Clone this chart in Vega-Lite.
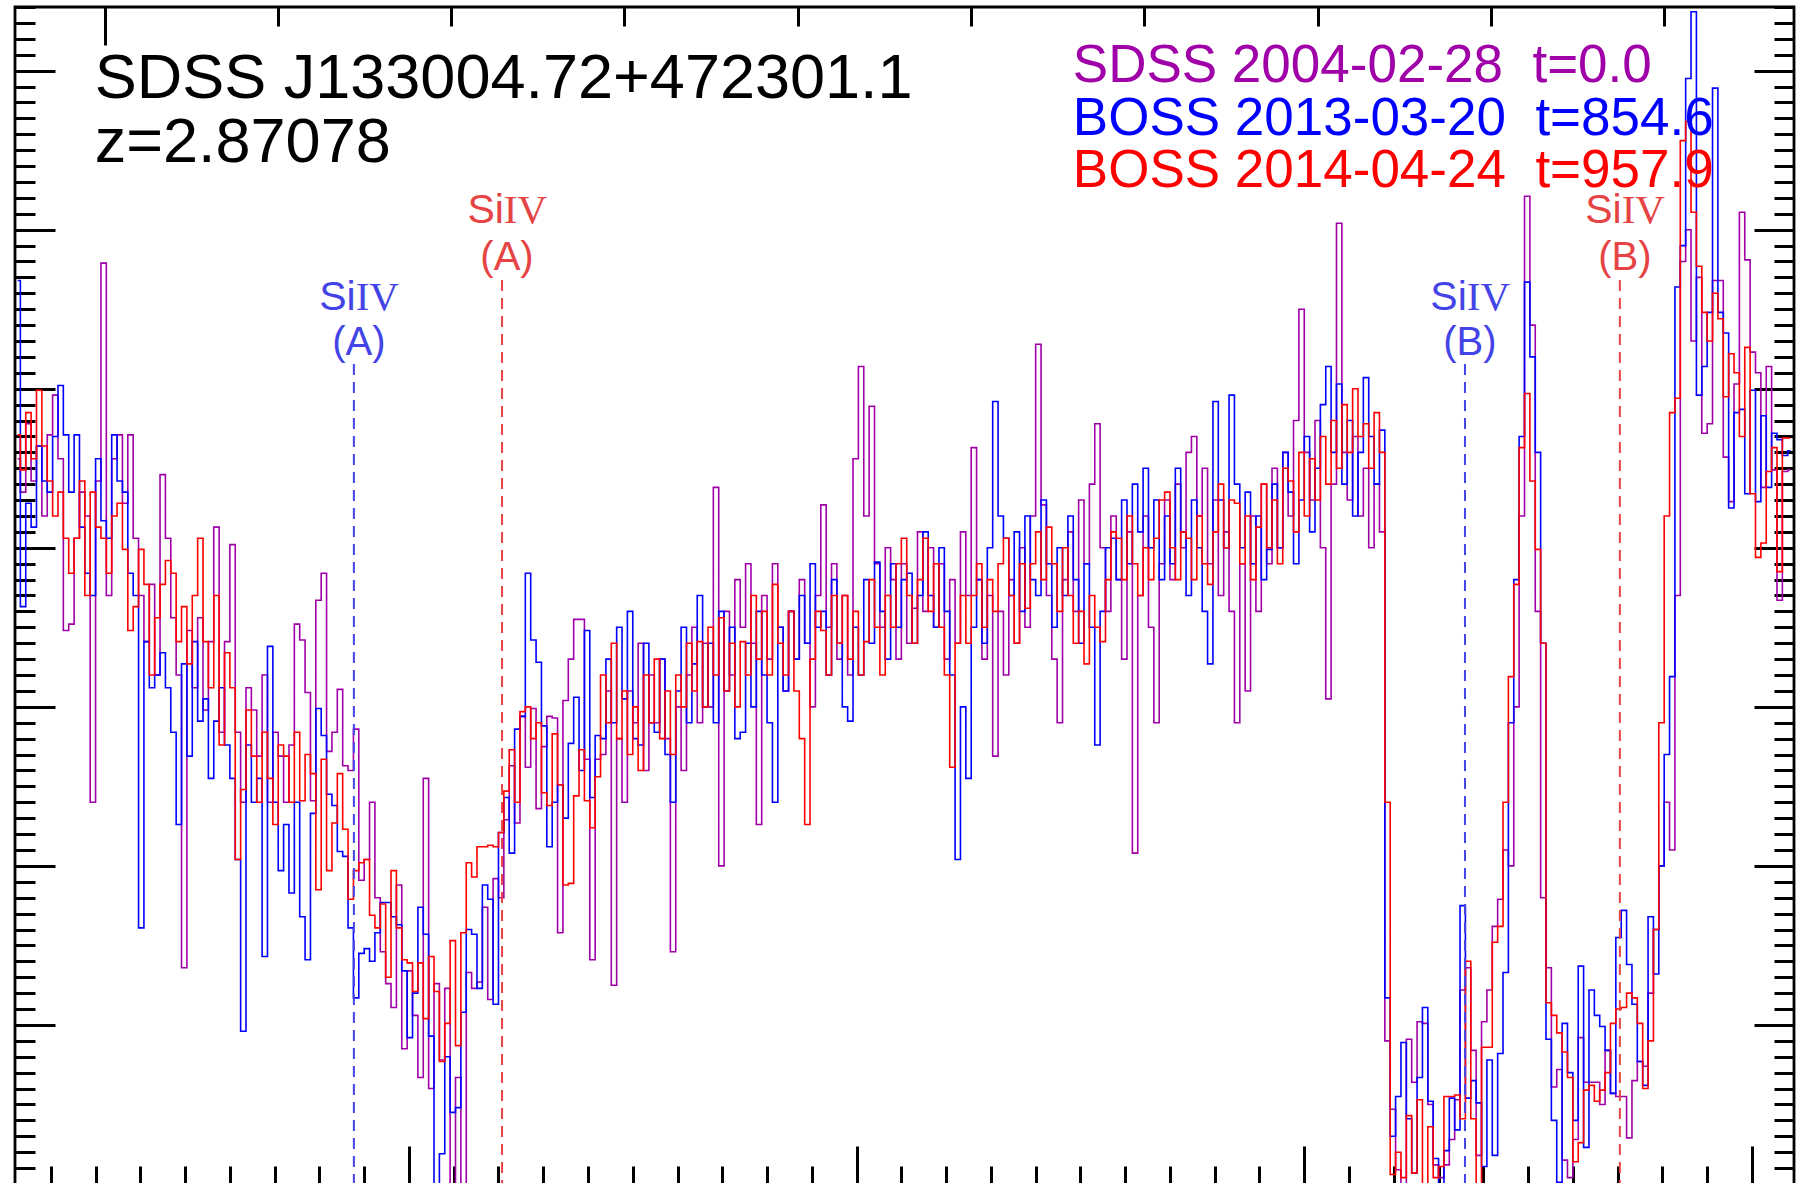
{
"$schema":"https://vega.github.io/schema/vega-lite/v6.json",
"width":1779,"height":1179,
"autosize":{"type":"none"},
"padding":{"left":15,"top":7,"right":2,"bottom":0},
"background":"white",
"config":{"view":{"stroke":"black","strokeWidth":2.8},"axis":{"domain":false,"labels":false,"grid":false,"tickColor":"black","tickWidth":3}},
"resolve":{"axis":{"x":"independent","y":"independent"},"scale":{"color":"independent"}},
"datasets":{
"spec":[
{"w":5012.6,"a":4.56,"b":5.68,"c":4.71},{"w":5013.8,"a":4.35,"b":3.63,"c":4.49},{"w":5015.0,"a":4.78,"b":4.28,"c":4.85},{"w":5016.2,"a":4.42,"b":4.13,"c":4.56},{"w":5017.4,"a":4.64,"b":4.64,"c":4.99},{"w":5018.6,"a":4.20,"b":4.42,"c":4.64},{"w":5019.8,"a":4.71,"b":4.35,"c":4.42},{"w":5021.0,"a":4.96,"b":4.70,"c":4.20},{"w":5022.2,"a":4.56,"b":5.02,"c":4.35},{"w":5023.4,"a":3.48,"b":4.71,"c":4.06},
{"w":5024.6,"a":3.52,"b":4.35,"c":3.84},{"w":5025.8,"a":4.06,"b":4.71,"c":4.06},{"w":5027.0,"a":4.35,"b":4.13,"c":4.42},{"w":5028.2,"a":4.20,"b":3.84,"c":3.70},{"w":5029.4,"a":2.40,"b":3.70,"c":4.35},{"w":5030.6,"a":4.42,"b":4.56,"c":4.13},{"w":5031.8,"a":5.79,"b":4.17,"c":4.06},{"w":5033.0,"a":3.70,"b":4.06,"c":3.84},{"w":5034.2,"a":4.56,"b":4.71,"c":4.20},{"w":5035.4,"a":4.71,"b":4.42,"c":4.28},
{"w":5036.6,"a":4.28,"b":4.35,"c":3.99},{"w":5037.8,"a":4.71,"b":3.84,"c":3.48},{"w":5039.0,"a":4.06,"b":3.70,"c":3.63},{"w":5040.2,"a":3.70,"b":1.61,"c":3.99},{"w":5041.4,"a":3.41,"b":3.41,"c":3.77},{"w":5042.6,"a":3.77,"b":3.12,"c":3.20},{"w":5043.8,"a":3.20,"b":3.20,"c":3.56},{"w":5045.0,"a":4.46,"b":3.34,"c":3.77},{"w":5046.2,"a":4.06,"b":3.12,"c":3.92},{"w":5047.4,"a":3.56,"b":2.84,"c":3.84},
{"w":5048.6,"a":3.20,"b":2.26,"c":3.41},{"w":5049.8,"a":1.36,"b":3.27,"c":3.63},{"w":5051.0,"a":3.48,"b":2.69,"c":3.27},{"w":5052.2,"a":3.12,"b":3.41,"c":3.70},{"w":5053.4,"a":3.56,"b":2.91,"c":4.06},{"w":5054.6,"a":2.98,"b":3.05,"c":3.41},{"w":5055.8,"a":3.41,"b":2.55,"c":3.12},{"w":5057.0,"a":4.13,"b":2.91,"c":3.70},{"w":5058.2,"a":2.84,"b":3.12,"c":2.76},{"w":5059.4,"a":3.41,"b":2.76,"c":3.34},
{"w":5060.6,"a":4.02,"b":2.55,"c":3.12},{"w":5061.8,"a":2.84,"b":2.04,"c":2.04},{"w":5063.0,"a":2.40,"b":0.96,"c":2.48},{"w":5064.2,"a":3.12,"b":2.76,"c":2.98},{"w":5065.4,"a":2.98,"b":2.40,"c":2.69},{"w":5066.6,"a":2.69,"b":2.55,"c":2.40},{"w":5067.8,"a":3.20,"b":1.43,"c":2.84},{"w":5069.0,"a":2.40,"b":3.38,"c":2.55},{"w":5070.2,"a":2.84,"b":2.40,"c":2.26},{"w":5071.4,"a":2.69,"b":1.97,"c":2.76},
{"w":5072.6,"a":2.40,"b":2.26,"c":2.69},{"w":5073.8,"a":2.76,"b":1.83,"c":2.40},{"w":5075.0,"a":3.52,"b":2.40,"c":2.84},{"w":5076.2,"a":3.42,"b":1.68,"c":2.41},{"w":5077.4,"a":3.09,"b":1.41,"c":2.70},{"w":5078.6,"a":2.41,"b":2.33,"c":2.58},{"w":5079.8,"a":3.67,"b":2.99,"c":1.85},{"w":5081.0,"a":3.84,"b":2.82,"c":2.67},{"w":5082.2,"a":2.72,"b":2.45,"c":1.97},{"w":5083.4,"a":2.84,"b":2.38,"c":2.27},
{"w":5084.6,"a":3.11,"b":2.09,"c":2.58},{"w":5085.8,"a":2.63,"b":2.06,"c":2.23},{"w":5087.0,"a":2.60,"b":1.61,"c":1.79},{"w":5088.2,"a":2.86,"b":1.17,"c":1.97},{"w":5089.4,"a":1.91,"b":1.45,"c":2.02},{"w":5090.6,"a":2.04,"b":1.48,"c":2.04},{"w":5091.8,"a":2.40,"b":1.40,"c":1.69},{"w":5093.0,"a":1.80,"b":1.58,"c":1.61},{"w":5094.2,"a":1.46,"b":1.77,"c":1.76},{"w":5095.4,"a":1.26,"b":1.77,"c":1.30},
{"w":5096.6,"a":1.11,"b":1.68,"c":1.97},{"w":5097.8,"a":1.88,"b":1.63,"c":1.61},{"w":5099.0,"a":0.85,"b":1.34,"c":1.41},{"w":5100.2,"a":1.34,"b":0.92,"c":1.39},{"w":5101.4,"a":1.06,"b":1.20,"c":1.21},{"w":5102.6,"a":0.67,"b":1.74,"c":1.39},{"w":5103.8,"a":2.55,"b":1.57,"c":1.04},{"w":5105.0,"a":0.60,"b":0.93,"c":1.43},{"w":5106.2,"a":1.26,"b":-0.3,"c":1.21},{"w":5107.4,"a":0.78,"b":0.19,"c":0.77},
{"w":5108.6,"a":1.23,"b":0.80,"c":1.01},{"w":5109.8,"a":-0.3,"b":0.45,"c":1.53},{"w":5111.0,"a":0.67,"b":0.48,"c":0.87},{"w":5112.2,"a":-0.3,"b":1.08,"c":1.58},{"w":5113.4,"a":1.33,"b":1.60,"c":2.02},{"w":5114.6,"a":1.23,"b":1.57,"c":1.93},{"w":5115.8,"a":1.27,"b":1.23,"c":2.12},{"w":5117.0,"a":1.74,"b":1.88,"c":2.12},{"w":5118.2,"a":1.16,"b":1.79,"c":2.13},{"w":5119.4,"a":1.92,"b":1.13,"c":2.12},
{"w":5120.6,"a":1.80,"b":2.21,"c":2.21},{"w":5121.8,"a":2.29,"b":2.43,"c":2.47},{"w":5123.0,"a":2.63,"b":2.08,"c":2.73},{"w":5124.2,"a":2.27,"b":2.86,"c":2.40},{"w":5125.4,"a":2.94,"b":2.94,"c":2.97},{"w":5126.6,"a":2.62,"b":3.84,"c":3.00},{"w":5127.8,"a":2.99,"b":3.42,"c":2.80},{"w":5129.0,"a":2.36,"b":3.28,"c":2.90},{"w":5130.2,"a":2.75,"b":2.88,"c":2.46},{"w":5131.4,"a":2.94,"b":2.12,"c":2.38},
{"w":5132.6,"a":2.93,"b":2.40,"c":2.83},{"w":5133.8,"a":1.58,"b":2.51,"c":2.51},{"w":5135.0,"a":3.04,"b":2.30,"c":1.88},{"w":5136.2,"a":3.30,"b":2.77,"c":1.89},{"w":5137.4,"a":3.55,"b":3.06,"c":2.44},{"w":5138.6,"a":3.55,"b":2.60,"c":2.73},{"w":5139.8,"a":2.67,"b":3.48,"c":2.41},{"w":5141.0,"a":1.41,"b":2.43,"c":2.24},{"w":5142.2,"a":2.67,"b":2.82,"c":2.56},{"w":5143.4,"a":2.70,"b":2.80,"c":3.20},
{"w":5144.6,"a":3.10,"b":3.30,"c":2.90},{"w":5145.8,"a":1.25,"b":2.90,"c":3.40},{"w":5147.0,"a":2.80,"b":3.50,"c":2.80},{"w":5148.2,"a":2.40,"b":3.05,"c":3.10},{"w":5149.4,"a":3.10,"b":3.60,"c":2.70},{"w":5150.6,"a":2.90,"b":2.80,"c":3.00},{"w":5151.8,"a":3.40,"b":2.76,"c":2.60},{"w":5153.0,"a":2.60,"b":3.40,"c":3.20},{"w":5154.2,"a":3.20,"b":2.90,"c":2.90},{"w":5155.4,"a":2.90,"b":2.84,"c":3.30},
{"w":5156.6,"a":3.30,"b":3.30,"c":2.80},{"w":5157.8,"a":2.80,"b":2.70,"c":3.10},{"w":5159.0,"a":1.46,"b":2.40,"c":2.70},{"w":5160.2,"a":3.00,"b":3.10,"c":3.20},{"w":5161.4,"a":2.60,"b":3.50,"c":3.00},{"w":5162.6,"a":3.20,"b":2.90,"c":3.40},{"w":5163.8,"a":3.50,"b":3.27,"c":3.10},{"w":5165.0,"a":2.90,"b":3.70,"c":3.41},{"w":5166.2,"a":3.40,"b":3.00,"c":3.00},{"w":5167.4,"a":3.00,"b":3.40,"c":3.50},
{"w":5168.6,"a":4.38,"b":2.90,"c":3.20},{"w":5169.8,"a":2.00,"b":3.60,"c":3.56},{"w":5171.0,"a":3.60,"b":3.10,"c":3.10},{"w":5172.2,"a":3.20,"b":3.50,"c":3.40},{"w":5173.4,"a":3.80,"b":2.80,"c":3.00},{"w":5174.6,"a":3.50,"b":2.84,"c":3.41},{"w":5175.8,"a":3.90,"b":3.40,"c":3.20},{"w":5177.0,"a":3.40,"b":3.00,"c":3.70},{"w":5178.2,"a":2.26,"b":3.60,"c":3.30},{"w":5179.4,"a":3.70,"b":3.20,"c":3.60},
{"w":5180.6,"a":3.30,"b":2.90,"c":3.20},{"w":5181.8,"a":3.90,"b":2.40,"c":3.77},{"w":5183.0,"a":3.50,"b":3.50,"c":3.40},{"w":5184.2,"a":3.10,"b":3.10,"c":3.20},{"w":5185.4,"a":3.60,"b":3.60,"c":3.60},{"w":5186.6,"a":3.30,"b":3.30,"c":3.10},{"w":5187.8,"a":3.80,"b":3.70,"c":2.80},{"w":5189.0,"a":3.40,"b":3.40,"c":2.26},{"w":5190.2,"a":3.00,"b":3.90,"c":3.30},{"w":5191.4,"a":3.70,"b":3.50,"c":3.60},
{"w":5192.6,"a":4.27,"b":3.60,"c":3.48},{"w":5193.8,"a":3.50,"b":3.20,"c":3.20},{"w":5195.0,"a":3.90,"b":3.80,"c":3.70},{"w":5196.2,"a":3.30,"b":3.40,"c":3.40},{"w":5197.4,"a":3.70,"b":3.00,"c":3.70},{"w":5198.6,"a":3.20,"b":2.91,"c":3.30},{"w":5199.8,"a":4.56,"b":3.50,"c":3.60},{"w":5201.0,"a":5.14,"b":3.20,"c":3.20},{"w":5202.2,"a":4.20,"b":3.80,"c":3.41},{"w":5203.4,"a":4.89,"b":3.40,"c":3.80},
{"w":5204.6,"a":3.90,"b":3.91,"c":3.50},{"w":5205.8,"a":3.50,"b":3.60,"c":3.20},{"w":5207.0,"a":4.00,"b":3.30,"c":3.70},{"w":5208.2,"a":3.80,"b":3.90,"c":3.50},{"w":5209.4,"a":3.30,"b":3.50,"c":3.90},{"w":5210.6,"a":3.90,"b":3.80,"c":4.06},{"w":5211.8,"a":3.40,"b":3.84,"c":3.70},{"w":5213.0,"a":3.62,"b":3.40,"c":3.40},{"w":5214.2,"a":4.10,"b":3.70,"c":3.80},{"w":5215.4,"a":3.60,"b":4.10,"c":4.06},
{"w":5216.6,"a":4.00,"b":3.70,"c":3.60},{"w":5217.8,"a":3.50,"b":3.50,"c":3.90},{"w":5219.0,"a":3.90,"b":4.00,"c":3.50},{"w":5220.2,"a":3.30,"b":3.60,"c":3.20},{"w":5221.4,"a":3.80,"b":3.20,"c":2.62},{"w":5222.6,"a":3.40,"b":2.04,"c":3.40},{"w":5223.8,"a":4.10,"b":3.00,"c":3.70},{"w":5225.0,"a":3.70,"b":2.55,"c":3.40},{"w":5226.2,"a":4.63,"b":3.50,"c":3.70},{"w":5227.4,"a":3.80,"b":3.80,"c":3.90},
{"w":5228.6,"a":3.30,"b":3.40,"c":3.50},{"w":5229.8,"a":3.70,"b":4.00,"c":3.80},{"w":5231.0,"a":2.69,"b":4.92,"c":3.60},{"w":5232.2,"a":3.60,"b":4.20,"c":3.90},{"w":5233.4,"a":3.20,"b":4.06,"c":4.06},{"w":5234.6,"a":3.80,"b":3.70,"c":3.70},{"w":5235.8,"a":3.40,"b":4.10,"c":3.40},{"w":5237.0,"a":4.00,"b":3.60,"c":3.90},{"w":5238.2,"a":3.50,"b":4.20,"c":3.62},{"w":5239.4,"a":4.20,"b":3.80,"c":3.90},
{"w":5240.6,"a":5.28,"b":3.70,"c":4.10},{"w":5241.8,"a":4.27,"b":4.30,"c":3.80},{"w":5243.0,"a":3.70,"b":3.90,"c":4.13},{"w":5244.2,"a":3.30,"b":3.50,"c":3.90},{"w":5245.4,"a":2.90,"b":4.00,"c":3.60},{"w":5246.6,"a":3.80,"b":3.70,"c":4.00},{"w":5247.8,"a":4.10,"b":4.20,"c":3.70},{"w":5249.0,"a":3.60,"b":3.80,"c":3.40},{"w":5250.2,"a":4.30,"b":3.40,"c":3.60},{"w":5251.4,"a":3.90,"b":3.90,"c":3.27},
{"w":5252.6,"a":4.40,"b":3.50,"c":3.70},{"w":5253.8,"a":4.78,"b":2.76,"c":3.50},{"w":5255.0,"a":4.00,"b":3.60,"c":3.41},{"w":5256.2,"a":3.60,"b":4.00,"c":3.80},{"w":5257.4,"a":4.20,"b":4.06,"c":4.10},{"w":5258.6,"a":3.80,"b":3.80,"c":4.06},{"w":5259.8,"a":3.30,"b":4.30,"c":3.80},{"w":5261.0,"a":4.10,"b":3.90,"c":4.20},{"w":5262.2,"a":2.08,"b":4.40,"c":3.90},{"w":5263.4,"a":3.70,"b":4.10,"c":3.70},
{"w":5264.6,"a":4.20,"b":4.50,"c":4.00},{"w":5265.8,"a":3.50,"b":4.00,"c":3.80},{"w":5267.0,"a":2.90,"b":4.30,"c":4.06},{"w":5268.2,"a":3.90,"b":3.80,"c":4.30},{"w":5269.4,"a":4.30,"b":4.20,"c":4.35},{"w":5270.6,"a":3.80,"b":3.90,"c":4.00},{"w":5271.8,"a":4.40,"b":4.50,"c":3.80},{"w":5273.0,"a":4.00,"b":4.10,"c":4.10},{"w":5274.2,"a":4.60,"b":3.70,"c":4.06},{"w":5275.4,"a":4.70,"b":4.30,"c":3.80},
{"w":5276.6,"a":4.20,"b":4.00,"c":4.20},{"w":5277.8,"a":4.50,"b":3.60,"c":3.90},{"w":5279.0,"a":3.90,"b":3.27,"c":3.77},{"w":5280.2,"a":4.30,"b":4.92,"c":4.10},{"w":5281.4,"a":3.70,"b":4.30,"c":4.40},{"w":5282.6,"a":4.10,"b":4.00,"c":4.00},{"w":5283.8,"a":3.60,"b":4.96,"c":4.30},{"w":5285.0,"a":2.90,"b":4.40,"c":4.28},{"w":5286.2,"a":3.90,"b":4.00,"c":3.90},{"w":5287.4,"a":3.10,"b":4.35,"c":4.20},
{"w":5288.6,"a":4.20,"b":3.90,"c":3.80},{"w":5289.8,"a":3.60,"b":4.20,"c":4.13},{"w":5291.0,"a":4.40,"b":3.80,"c":4.40},{"w":5292.2,"a":3.90,"b":3.99,"c":4.00},{"w":5293.4,"a":4.50,"b":4.40,"c":4.30},{"w":5294.6,"a":4.00,"b":4.00,"c":3.90},{"w":5295.8,"a":4.60,"b":4.60,"c":4.50},{"w":5297.0,"a":4.20,"b":4.35,"c":4.42},{"w":5298.2,"a":4.80,"b":3.90,"c":4.10},{"w":5299.4,"a":5.50,"b":4.30,"c":4.60},
{"w":5300.6,"a":4.60,"b":4.70,"c":4.20},{"w":5301.8,"a":4.30,"b":4.10,"c":4.56},{"w":5303.0,"a":4.80,"b":4.50,"c":4.30},{"w":5304.2,"a":4.00,"b":4.90,"c":4.70},{"w":5305.4,"a":3.05,"b":5.14,"c":4.40},{"w":5306.6,"a":4.40,"b":4.60,"c":4.80},{"w":5307.8,"a":6.04,"b":5.03,"c":4.50},{"w":5309.0,"a":4.60,"b":4.40,"c":4.90},{"w":5310.2,"a":4.30,"b":4.80,"c":4.60},{"w":5311.4,"a":4.70,"b":4.20,"c":5.00},
{"w":5312.6,"a":4.20,"b":4.60,"c":4.70},{"w":5313.8,"a":4.50,"b":5.07,"c":4.78},{"w":5315.0,"a":4.00,"b":4.70,"c":4.50},{"w":5316.2,"a":4.40,"b":4.40,"c":4.85},{"w":5317.4,"a":4.10,"b":4.74,"c":4.60},{"w":5318.6,"a":0.90,"b":1.17,"c":2.40},{"w":5319.8,"a":0.47,"b":0.30,"c":0.06},{"w":5321.0,"a":0.09,"b":0.55,"c":0.20},{"w":5322.2,"a":-0.2,"b":0.89,"c":0.04},{"w":5323.4,"a":0.91,"b":0.41,"c":0.43},
{"w":5324.6,"a":0.64,"b":0.07,"c":0.07},{"w":5325.8,"a":1.02,"b":0.67,"c":0.53},{"w":5327.0,"a":1.01,"b":1.11,"c":-0.2},{"w":5328.2,"a":0.50,"b":0.52,"c":0.36},{"w":5329.4,"a":0.12,"b":0.16,"c":0.04},{"w":5330.6,"a":0.04,"b":-0.2,"c":0.11},{"w":5331.8,"a":0.12,"b":0.21,"c":0.55},{"w":5333.0,"a":0.28,"b":0.54,"c":0.55},{"w":5334.2,"a":0.53,"b":0.34,"c":0.56},{"w":5335.4,"a":1.22,"b":1.75,"c":0.41},
{"w":5336.6,"a":1.36,"b":0.54,"c":1.40},{"w":5337.8,"a":0.84,"b":0.65,"c":0.41},{"w":5339.0,"a":0.18,"b":0.51,"c":-0.2},{"w":5340.2,"a":1.02,"b":0.11,"c":0.86},{"w":5341.4,"a":1.22,"b":0.78,"c":0.86},{"w":5342.6,"a":1.62,"b":0.18,"c":1.52},{"w":5343.8,"a":1.79,"b":0.82,"c":1.62},{"w":5345.0,"a":2.10,"b":1.33,"c":2.40},{"w":5346.2,"a":2.00,"b":2.90,"c":3.19},{"w":5347.4,"a":3.00,"b":3.80,"c":3.77},
{"w":5348.6,"a":4.20,"b":4.70,"c":4.63},{"w":5349.8,"a":6.21,"b":5.67,"c":4.97},{"w":5351.0,"a":5.40,"b":5.20,"c":4.42},{"w":5352.2,"a":3.60,"b":4.60,"c":3.99},{"w":5353.4,"a":1.80,"b":3.40,"c":3.40},{"w":5354.6,"a":1.36,"b":0.91,"c":1.14},{"w":5355.8,"a":0.61,"b":0.40,"c":1.06},{"w":5357.0,"a":0.72,"b":0.01,"c":0.95},{"w":5358.2,"a":0.15,"b":1.01,"c":0.83},{"w":5359.4,"a":0.04,"b":0.70,"c":0.67},
{"w":5360.6,"a":0.28,"b":0.40,"c":0.14},{"w":5361.8,"a":0.92,"b":1.37,"c":0.26},{"w":5363.0,"a":0.64,"b":0.23,"c":0.59},{"w":5364.2,"a":0.64,"b":1.22,"c":0.62},{"w":5365.4,"a":0.64,"b":1.06,"c":0.52},{"w":5366.6,"a":0.50,"b":0.99,"c":0.59},{"w":5367.8,"a":0.84,"b":0.84,"c":0.70},{"w":5369.0,"a":0.57,"b":0.57,"c":1.01},{"w":5370.2,"a":0.55,"b":1.55,"c":1.10},{"w":5371.4,"a":0.55,"b":1.72,"c":1.11},
{"w":5372.6,"a":0.29,"b":1.38,"c":1.20},{"w":5373.8,"a":0.65,"b":1.13,"c":1.17},{"w":5375.0,"a":0.77,"b":0.77,"c":1.01},{"w":5376.2,"a":0.74,"b":0.62,"c":0.60},{"w":5377.4,"a":1.20,"b":1.68,"c":0.90},{"w":5378.6,"a":1.60,"b":1.32,"c":1.60},{"w":5379.8,"a":2.00,"b":2.00,"c":2.90},{"w":5381.0,"a":2.40,"b":2.70,"c":4.20},{"w":5382.2,"a":2.10,"b":3.19,"c":4.85},{"w":5383.4,"a":3.70,"b":5.64,"c":4.94},
{"w":5384.6,"a":5.80,"b":5.90,"c":6.56},{"w":5385.8,"a":6.00,"b":6.95,"c":6.68},{"w":5387.0,"a":5.30,"b":7.37,"c":6.11},{"w":5388.2,"a":5.70,"b":4.96,"c":5.77},{"w":5389.4,"a":4.72,"b":5.14,"c":5.48},{"w":5390.6,"a":4.78,"b":5.48,"c":5.30},{"w":5391.8,"a":5.68,"b":6.89,"c":5.60},{"w":5393.0,"a":5.68,"b":5.48,"c":5.44},{"w":5394.2,"a":4.57,"b":5.35,"c":4.95},{"w":5395.4,"a":4.29,"b":4.25,"c":5.22},
{"w":5396.6,"a":5.03,"b":4.85,"c":5.10},{"w":5397.8,"a":6.11,"b":4.87,"c":4.70},{"w":5399.0,"a":5.81,"b":4.34,"c":5.26},{"w":5400.2,"a":5.23,"b":4.99,"c":4.34},{"w":5401.4,"a":5.10,"b":4.29,"c":3.94},{"w":5402.6,"a":4.38,"b":4.83,"c":4.03},{"w":5403.8,"a":5.14,"b":4.38,"c":4.48},{"w":5405.0,"a":4.49,"b":4.72,"c":4.63},{"w":5406.2,"a":3.67,"b":4.68,"c":3.85},{"w":5407.4,"a":4.48,"b":4.58,"c":4.69},
{"w":5408.6,"a":4.49,"b":4.61,"c":4.69}
],
"marks":[{"w":5087.7,"top":5.155,"g":"b"},{"w":5120.8,"top":5.683,"g":"c"},{"w":5335.9,"top":5.155,"g":"b"},{"w":5370.5,"top":5.683,"g":"c"}],
"siiv":[{"w":5088.1,"y":5.495,"g":"b"},{"w":5121.2,"y":6.042,"g":"c"},{"w":5336.3,"y":5.495,"g":"b"},{"w":5370.9,"y":6.042,"g":"c"}],
"tags":[{"w":5088.8,"y":5.212,"t":"(A)","g":"b"},{"w":5121.9,"y":5.746,"t":"(A)","g":"c"},{"w":5337.0,"y":5.212,"t":"(B)","g":"b"},{"w":5371.6,"y":5.746,"t":"(B)","g":"c"}]
},
"layer":[
{"data":{"name":"spec"},
 "mark":{"type":"line","interpolate":"step","color":"#a000a8","strokeWidth":1.6,"clip":true},
 "encoding":{
  "x":{"field":"w","type":"quantitative","scale":{"domain":[5012,5409.4],"nice":false,"zero":false},
   "axis":{"orient":"bottom","title":null,"values":[5020,5030,5040,5050,5060,5070,5080,5090,5100,5110,5120,5130,5140,5150,5160,5170,5180,5190,5200,5210,5220,5230,5240,5250,5260,5270,5280,5290,5300,5310,5320,5330,5340,5350,5360,5370,5380,5390,5400],
    "tickSize":{"condition":{"test":"datum.value % 100 === 0","value":-40},"value":-20}}},
  "y":{"field":"a","type":"quantitative","scale":{"domain":[-0.0126,7.4],"nice":false,"zero":false},
   "axis":{"orient":"left","title":null,"values":[0.1,0.2,0.3,0.4,0.5,0.6,0.7,0.8,0.9,1,1.1,1.2,1.3,1.4,1.5,1.6,1.7,1.8,1.9,2,2.1,2.2,2.3,2.4,2.5,2.6,2.7,2.8,2.9,3,3.1,3.2,3.3,3.4,3.5,3.6,3.7,3.8,3.9,4,4.1,4.2,4.3,4.4,4.5,4.6,4.7,4.8,4.9,5,5.1,5.2,5.3,5.4,5.5,5.6,5.7,5.8,5.9,6,6.1,6.2,6.3,6.4,6.5,6.6,6.7,6.8,6.9,7,7.1,7.2,7.3,7.4],
    "tickSize":{"condition":{"test":"abs(datum.value - round(datum.value)) < 0.01","value":-40},"value":-20}}}
 }},
{"data":{"name":"spec"},
 "mark":{"type":"line","interpolate":"step","color":"#0000ff","strokeWidth":1.6,"clip":true},
 "encoding":{
  "x":{"field":"w","type":"quantitative","scale":{"domain":[5012,5409.4],"nice":false,"zero":false},
   "axis":{"orient":"top","title":null,"values":[5032.0,5070.7,5109.4,5148.1,5186.8,5225.5,5264.3,5303.0,5341.7,5380.4],
    "tickSize":{"condition":{"test":"datum.value < 5040","value":-38},"value":-19}}},
  "y":{"field":"b","type":"quantitative","scale":{"domain":[-0.0126,7.4],"nice":false,"zero":false},
   "axis":{"orient":"right","title":null,"values":[0.1,0.2,0.3,0.4,0.5,0.6,0.7,0.8,0.9,1,1.1,1.2,1.3,1.4,1.5,1.6,1.7,1.8,1.9,2,2.1,2.2,2.3,2.4,2.5,2.6,2.7,2.8,2.9,3,3.1,3.2,3.3,3.4,3.5,3.6,3.7,3.8,3.9,4,4.1,4.2,4.3,4.4,4.5,4.6,4.7,4.8,4.9,5,5.1,5.2,5.3,5.4,5.5,5.6,5.7,5.8,5.9,6,6.1,6.2,6.3,6.4,6.5,6.6,6.7,6.8,6.9,7,7.1,7.2,7.3,7.4],
    "tickSize":{"condition":{"test":"abs(datum.value - round(datum.value)) < 0.01","value":-40},"value":-20}}}
 }},
{"data":{"name":"spec"},
 "mark":{"type":"line","interpolate":"step","color":"#ff0000","strokeWidth":1.6,"clip":true},
 "encoding":{
  "x":{"field":"w","type":"quantitative","scale":{"domain":[5012,5409.4],"nice":false,"zero":false},"axis":null},
  "y":{"field":"c","type":"quantitative","scale":{"domain":[-0.0126,7.4],"nice":false,"zero":false},"axis":null}
 }},
{"data":{"name":"marks"},
 "mark":{"type":"rule","strokeDash":[11,7],"strokeWidth":2,"clip":true},
 "encoding":{
  "x":{"field":"w","type":"quantitative","scale":{"domain":[5012,5409.4],"nice":false,"zero":false},"axis":null},
  "y":{"field":"top","type":"quantitative","scale":{"domain":[-0.0126,7.4],"nice":false,"zero":false},"axis":null},
  "y2":{"datum":-0.0126},
  "color":{"field":"g","type":"nominal","scale":{"domain":["b","c"],"range":["#4444e6","#e64444"]},"legend":null}
 }},
{"data":{"name":"siiv"},
 "mark":{"type":"text","text":"Si","align":"right","baseline":"alphabetic","font":"Liberation Sans","fontSize":41},
 "encoding":{
  "x":{"field":"w","type":"quantitative","scale":{"domain":[5012,5409.4],"nice":false,"zero":false},"axis":null},
  "y":{"field":"y","type":"quantitative","scale":{"domain":[-0.0126,7.4],"nice":false,"zero":false},"axis":null},
  "color":{"field":"g","type":"nominal","scale":{"domain":["b","c"],"range":["#4444e6","#e64444"]},"legend":null}
 }},
{"data":{"name":"siiv"},
 "mark":{"type":"text","text":"IV","align":"left","baseline":"alphabetic","font":"Liberation Serif","fontSize":41},
 "encoding":{
  "x":{"field":"w","type":"quantitative","scale":{"domain":[5012,5409.4],"nice":false,"zero":false},"axis":null},
  "y":{"field":"y","type":"quantitative","scale":{"domain":[-0.0126,7.4],"nice":false,"zero":false},"axis":null},
  "color":{"field":"g","type":"nominal","scale":{"domain":["b","c"],"range":["#4444e6","#e64444"]},"legend":null}
 }},
{"data":{"name":"tags"},
 "mark":{"type":"text","align":"center","baseline":"alphabetic","font":"Liberation Sans","fontSize":40},
 "encoding":{
  "x":{"field":"w","type":"quantitative","scale":{"domain":[5012,5409.4],"nice":false,"zero":false},"axis":null},
  "y":{"field":"y","type":"quantitative","scale":{"domain":[-0.0126,7.4],"nice":false,"zero":false},"axis":null},
  "text":{"field":"t"},
  "color":{"field":"g","type":"nominal","scale":{"domain":["b","c"],"range":["#4444e6","#e64444"]},"legend":null}
 }},
{"data":{"values":[{"w":5029.8,"y":6.828,"t":"SDSS J133004.72+472301.1"},{"w":5029.8,"y":6.425,"t":"z=2.87078"}]},
 "mark":{"type":"text","align":"left","baseline":"alphabetic","font":"Liberation Sans","fontSize":63,"color":"black"},
 "encoding":{
  "x":{"field":"w","type":"quantitative","scale":{"domain":[5012,5409.4],"nice":false,"zero":false},"axis":null},
  "y":{"field":"y","type":"quantitative","scale":{"domain":[-0.0126,7.4],"nice":false,"zero":false},"axis":null},
  "text":{"field":"t"}
 }},
{"data":{"values":[{"w":5248.3,"y":6.928,"t":"SDSS 2004-02-28\u00a0\u00a0t=0.0","g":"a"},{"w":5248.3,"y":6.598,"t":"BOSS 2013-03-20\u00a0\u00a0t=854.6","g":"b"},{"w":5248.3,"y":6.268,"t":"BOSS 2014-04-24\u00a0\u00a0t=957.9","g":"c"}]},
 "mark":{"type":"text","align":"left","baseline":"alphabetic","font":"Liberation Sans","fontSize":53},
 "encoding":{
  "x":{"field":"w","type":"quantitative","scale":{"domain":[5012,5409.4],"nice":false,"zero":false},"axis":null},
  "y":{"field":"y","type":"quantitative","scale":{"domain":[-0.0126,7.4],"nice":false,"zero":false},"axis":null},
  "text":{"field":"t"},
  "color":{"field":"g","type":"nominal","scale":{"domain":["a","b","c"],"range":["#a000a8","#0000ff","#ff0000"]},"legend":null}
 }}
]
}
